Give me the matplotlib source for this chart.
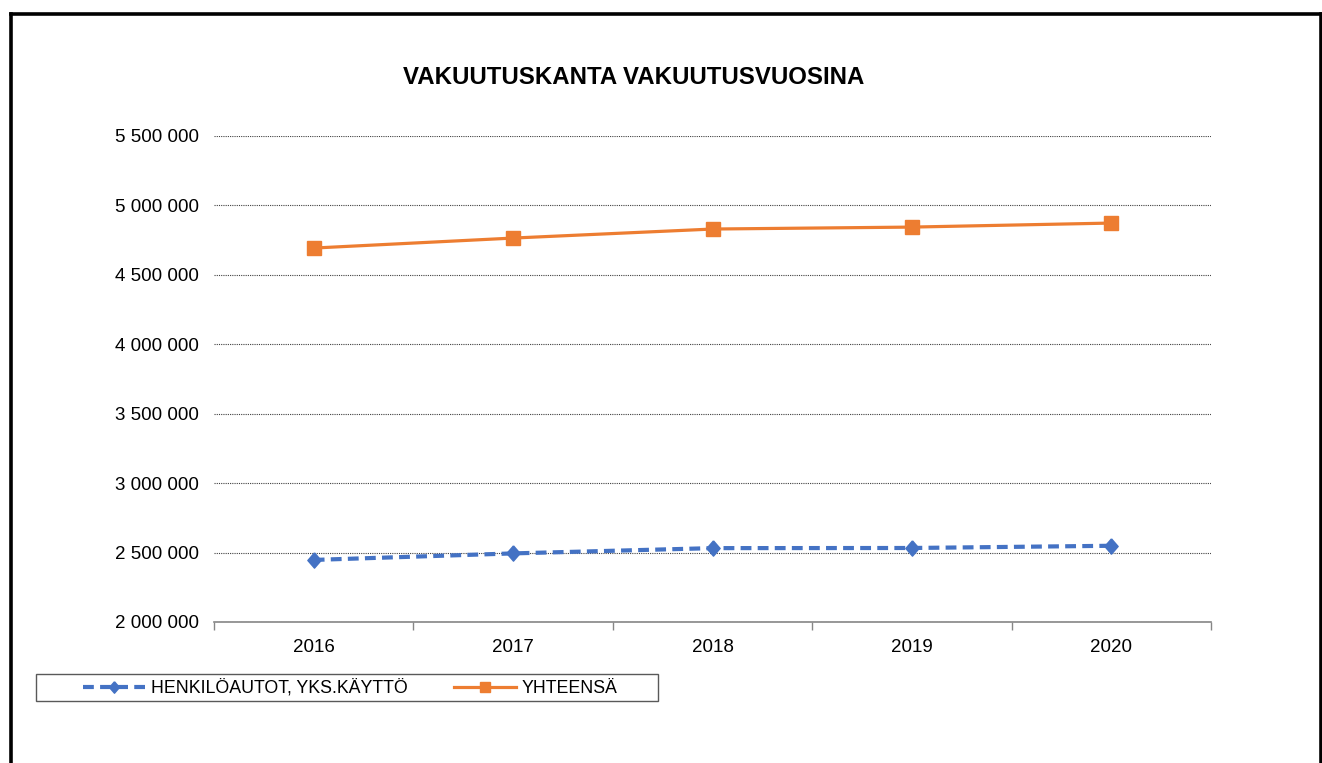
import matplotlib.pyplot as plt
from matplotlib.lines import Line2D
from matplotlib.patches import Rectangle
from matplotlib.ticker import FuncFormatter

plt.rcParams['font.family'] = ['Liberation Sans', 'DejaVu Sans']

# data
years = ['2016', '2017', '2018', '2019', '2020']
henkiloautot = [2447000, 2494000, 2532000, 2533000, 2549000]
yhteensa = [4693000, 4765000, 4830000, 4844000, 4873000]
y_ticks = [2000000, 2500000, 3000000, 3500000, 4000000, 4500000, 5000000, 5500000]

blue = '#4472C4'
orange = '#ED7D31'

diamond = [(0, 1), (0.87, 0), (0, -1), (-0.87, 0), (0, 1)]

fig = plt.figure(figsize=(13.22, 7.63), dpi=100)
ax = fig.add_axes([214 / 1322, 1 - 622 / 763, (1211 - 214) / 1322, (622 - 136) / 763])

x = list(range(len(years)))
ax.plot(x, henkiloautot, color=blue, lw=3, dashes=(2.6, 1.5), marker=diamond,
        markersize=11, label='HENKILÖAUTOT, YKS.KÄYTTÖ', zorder=3)
ax.plot(x, yhteensa, color=orange, lw=2.3, marker='s',
        markersize=10.5, label='YHTEENSÄ', zorder=3)

ax.set_xlim(-0.5, 4.5)
ax.set_ylim(2000000, 5500000)
ax.set_yticks(y_ticks)
ax.yaxis.set_major_formatter(FuncFormatter(lambda v, p: f'{int(v):,}'.replace(',', ' ')))
ax.set_xticks(x)
ax.set_xticklabels(years)
ax.set_xticks([i - 0.5 for i in range(len(years) + 1)], minor=True)
ax.tick_params(axis='x', which='major', length=0, pad=12, labelsize=13.5)
ax.tick_params(axis='x', which='minor', length=6, color='#868686', width=1)
ax.tick_params(axis='y', length=0, pad=11, labelsize=13.5)

ax.grid(axis='y', color='#404040', lw=0.8, linestyle=(0, (1, 1)))
ax.set_axisbelow(True)
for s in ['left', 'right', 'top']:
    ax.spines[s].set_visible(False)
ax.spines['bottom'].set_color('#868686')
ax.spines['bottom'].set_linewidth(1.2)
ax.spines['bottom'].set_zorder(4)

fig.text(634 / 1322, 1 - 77 / 763, 'VAKUUTUSKANTA VAKUUTUSVUOSINA',
         ha='center', va='center', fontsize=17.3, fontweight='bold')

# legend box
fig.add_artist(Rectangle((36 / 1322, 1 - 701 / 763), 622 / 1322, 27 / 763,
                         transform=fig.transFigure, facecolor='white',
                         edgecolor='#595959', lw=1))
fig.legend(loc='center', ncol=2, bbox_to_anchor=(350 / 1322, 1 - 688 / 763),
           fontsize=12.8, frameon=False, handlelength=3.5, handletextpad=0.3,
           columnspacing=2.6, markerscale=0.75, borderpad=0)

# outer black frame (bottom edge falls outside the picture)
for xs, ys in [([10.5, 10.5], [763, 13.5]), ([10.5, 1320.5], [13.5, 13.5]), ([1320.5, 1320.5], [13.5, 763])]:
    fig.add_artist(Line2D([v / 1322 for v in xs], [1 - v / 763 for v in ys],
                          color='black', lw=2.6, transform=fig.transFigure))

fig.savefig('out.png', dpi=100, facecolor='white')
